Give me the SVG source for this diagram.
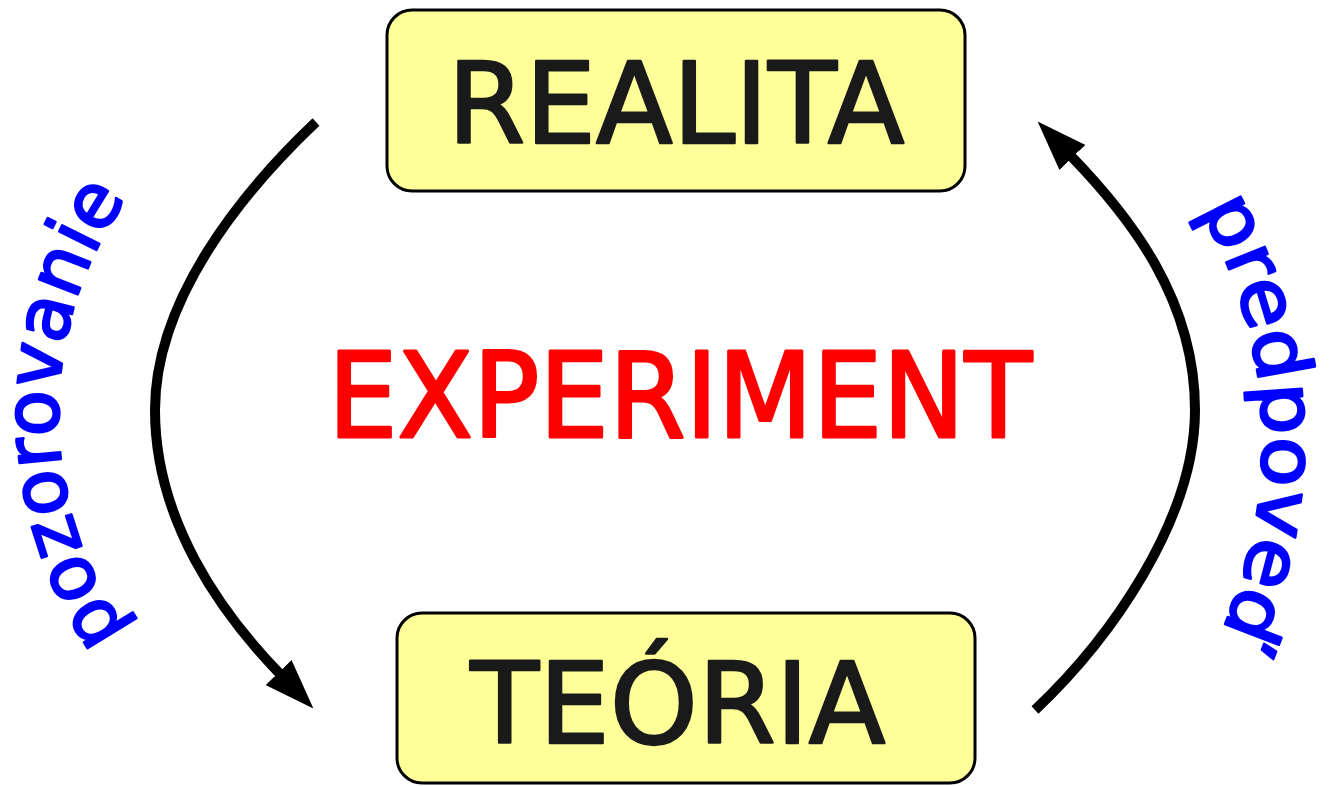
<svg xmlns="http://www.w3.org/2000/svg" width="1340" height="786" viewBox="0 0 1340 786">
<style>
.box{fill:#FFFF99;stroke:#000;stroke-width:3}
.lbl{font-family:"Comic Sans MS","DejaVu Sans",sans-serif;font-size:112px;fill:#1a1a1a;stroke:#1a1a1a;stroke-width:2.5;stroke-linejoin:round;text-anchor:middle}
.conn{fill:none;stroke:#000;stroke-width:10;marker-end:url(#ah)}
.side{font-family:"Comic Sans MS","DejaVu Sans",sans-serif;font-size:76px;fill:#0000FF;stroke:#0000FF;stroke-width:2.5;stroke-linejoin:round;text-anchor:middle}
.center{font-family:"Comic Sans MS","DejaVu Sans",sans-serif;font-size:118px;fill:#FF0000;stroke:#FF0000;stroke-width:3;stroke-linejoin:round;text-anchor:middle}
</style>
<defs>
<marker id="ah" markerUnits="userSpaceOnUse" viewBox="0 0 50 36" markerWidth="50" markerHeight="36" refX="2" refY="18" orient="auto">
<path d="M0,0 L50,18 L0,36 Z" fill="#000"/>
</marker>
<path id="pl" d="M139,648 A377,377 0 0 1 139,182"/>
<path id="pr" d="M1192.7,197.9 A459.5,459.5 0 0 1 1216,642.8"/>
</defs>
<rect width="1340" height="786" fill="#fff"/>
<g id="connectors">
<path class="conn" d="M316,122 C241,193 155,300 155,410 C155,520 220,612 280,674"/>
<path class="conn" d="M1035,710 C1110,639 1195,520 1195,410 C1195,300 1131,218 1071,156"/>
</g>
<g id="realita">
<rect class="box" x="387" y="10" width="578" height="181" rx="25"/>
<text class="lbl" x="676" y="143">REALITA</text>
</g>
<g id="teoria">
<rect class="box" x="397" y="613" width="578" height="170" rx="25"/>
<text class="lbl" x="678" y="743">TEÓRIA</text>
</g>
<g id="experiment">
<text class="center" x="680" y="437" textLength="704" lengthAdjust="spacingAndGlyphs">EXPERIMENT</text>
</g>
<g id="label-pozorovanie">
<text class="side"><textPath href="#pl" startOffset="50%" textLength="462" lengthAdjust="spacingAndGlyphs">pozorovanie</textPath></text>
</g>
<g id="label-predpoved">
<text class="side"><textPath href="#pr" startOffset="50%" textLength="438" lengthAdjust="spacingAndGlyphs">predpoveď</textPath></text>
</g>
</svg>
